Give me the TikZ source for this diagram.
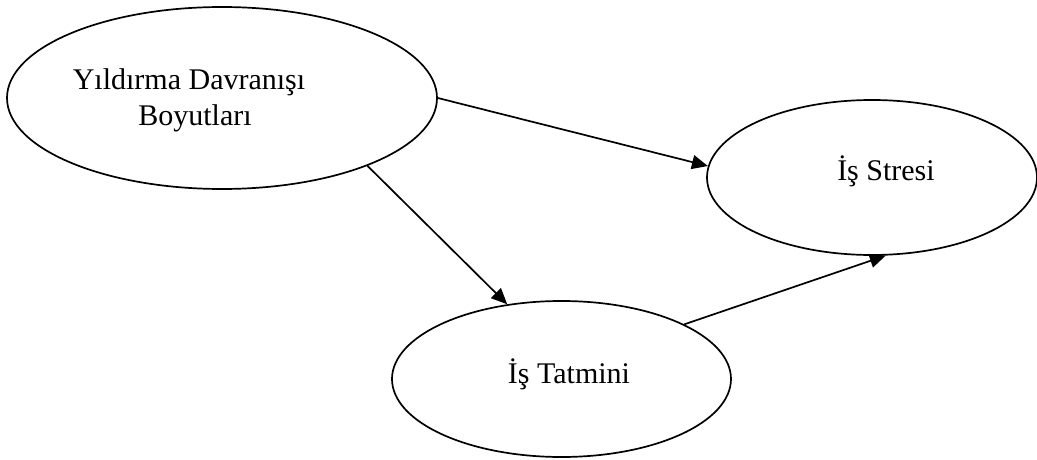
\documentclass[tikz,border=0pt]{standalone}
\usepackage{fontspec}
\setmainfont{Liberation Serif}
\usetikzlibrary{shapes.geometric,arrows.meta}
\begin{document}
\begin{tikzpicture}[x=1pt,y=-1pt,
  oval/.style={ellipse,draw=black,line width=1.7pt,inner sep=0pt},
  lbl/.style={font=\fontsize{30}{36}\selectfont,inner sep=0pt,anchor=base},
  link/.style={line width=1.7pt,-{Triangle[length=16pt,width=14pt]}}]
\useasboundingbox (0,0) rectangle (1037,460);
\node[oval,minimum width=430pt,minimum height=182pt] (e1) at (222,98) {};
\node[oval,minimum width=330pt,minimum height=155pt] (e2) at (872,177.5) {};
\node[oval,minimum width=339pt,minimum height=156pt] (e3) at (561.5,379) {};
\node[lbl] (t1a) at (189,90) {Yıldırma Davranışı};
\node[lbl] (t1b) at (195,125) {Boyutları};
\node[lbl] (t2) at (886,180) {İş Stresi};
\node[lbl] (t3) at (569,383) {İş Tatmini};
\draw[link] (e1.east) -- (e2.176);
\draw[link] (e1.-25.3) -- (e3.126.6);
\draw[link] (e3.24.7) -- (e2.280.9);
\end{tikzpicture}
\end{document}
